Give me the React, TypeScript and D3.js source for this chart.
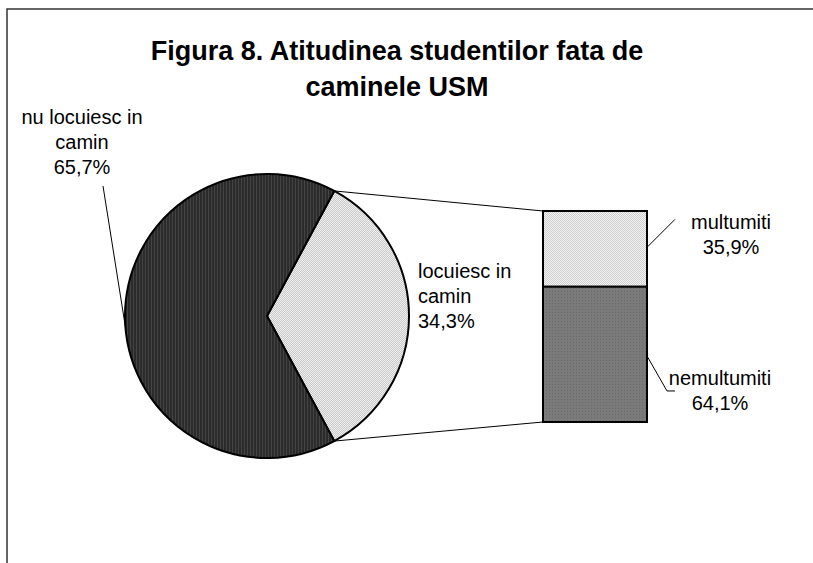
import * as d3 from "d3";

// --- Data ---
const mainLabels = [["locuiesc in", "camin"], ["nu locuiesc in", "camin"]];
const mainValues = [34.3, 65.7];
const subLabels = ["multumiti", "nemultumiti"];
const subValues = [35.9, 64.1];
const titleLines = ["Figura 8. Atitudinea studentilor fata de", "caminele USM"];

const W = 813;
const H = 563;

const PIE = { cx: 267, cy: 316, r: 142 };
const BAR = { x: 543, top: 211, bottom: 422, width: 104 };
const FONT = "'Liberation Sans', Arial, sans-serif";

const fmt = (v: number) => v.toFixed(1).replace(".", ",") + "%";

export default function App() {
  const total = d3.sum(mainValues);
  // first slice (locuiesc) centered on the right side
  const a0 = Math.PI / 2 - (mainValues[0] / total) * Math.PI;
  const pie = d3
    .pie<number>()
    .sort(null)
    .startAngle(a0)
    .endAngle(a0 + Math.PI * 2);
  const arcs = pie(mainValues);
  const arc = d3.arc<d3.PieArcDatum<number>>().innerRadius(0).outerRadius(PIE.r);

  const pt = (a: number, r = PIE.r) => [
    PIE.cx + r * Math.sin(a),
    PIE.cy - r * Math.cos(a),
  ];

  const y = d3.scaleLinear().domain([0, d3.sum(subValues)]).range([BAR.top, BAR.bottom]);
  let acc = 0;
  const stack = subValues.map((v, i) => {
    const s = { label: subLabels[i], value: v, y0: y(acc), y1: y(acc + v) };
    acc += v;
    return s;
  });

  const [tx, ty] = pt(arcs[0].startAngle);
  const [bx, by] = pt(arcs[0].endAngle);

  // leader for "nu locuiesc" slice
  const [lx, ly] = pt(-1.65);

  const fills = ["url(#lightPat)", "url(#darkPat)"];
  const barFills = ["url(#barTopPat)", "url(#barBotPat)"];
  const barRight = BAR.x + BAR.width;

  return (
    <svg
      width={W}
      height={H}
      style={{ position: "absolute", left: 0, top: 0, background: "#fff" }}
      fontFamily={FONT}
    >
      <defs>
        <pattern id="darkPat" width="3" height="2" patternUnits="userSpaceOnUse">
          <rect width="3" height="2" fill="#2b2b2b" />
          <rect x="1" width="1" height="2" fill="#444" />
        </pattern>
        <pattern id="lightPat" width="2" height="2" patternUnits="userSpaceOnUse">
          <rect width="2" height="2" fill="#f0f0f0" />
          <rect width="1" height="1" fill="#c8c8c8" />
          <rect x="1" y="1" width="1" height="1" fill="#c8c8c8" />
        </pattern>
        <pattern id="barTopPat" width="2" height="2" patternUnits="userSpaceOnUse">
          <rect width="2" height="2" fill="#f2f2f2" />
          <rect width="1" height="1" fill="#cfcfcf" />
          <rect x="1" y="1" width="1" height="1" fill="#cfcfcf" />
        </pattern>
        <pattern id="barBotPat" width="3" height="3" patternUnits="userSpaceOnUse">
          <rect width="3" height="3" fill="#7a7a7a" />
          <rect width="1" height="1" fill="#6a6a6a" />
        </pattern>
      </defs>

      {/* frame */}
      <rect x={7} y={9} width={W + 20} height={H + 20} fill="none" stroke="#333" strokeWidth={1.5} />

      {/* title */}
      <text textAnchor="middle" fontSize={27} fontWeight="bold" fill="#000">
        {titleLines.map((t, i) => (
          <tspan key={i} x={397} y={60 + i * 36}>
            {t}
          </tspan>
        ))}
      </text>

      {/* pie */}
      <g transform={`translate(${PIE.cx},${PIE.cy})`}>
        {arcs.map((d, i) => (
          <path key={i} d={arc(d) ?? ""} fill={fills[i]} stroke="#000" strokeWidth={2} strokeLinejoin="round" />
        ))}
      </g>

      {/* connectors pie -> bar */}
      <line x1={tx} y1={ty} x2={BAR.x} y2={BAR.top} stroke="#000" strokeWidth={1} />
      <line x1={bx} y1={by} x2={BAR.x} y2={BAR.bottom} stroke="#000" strokeWidth={1} />

      {/* bar of pie */}
      {stack.map((s, i) => (
        <rect
          key={i}
          x={BAR.x}
          y={s.y0}
          width={BAR.width}
          height={s.y1 - s.y0}
          fill={barFills[i]}
          stroke="#000"
          strokeWidth={2}
        />
      ))}

      {/* labels */}
      <line x1={103} y1={186} x2={lx} y2={ly} stroke="#000" strokeWidth={1} />
      <text textAnchor="middle" fontSize={20} fill="#000">
        {[...mainLabels[1], fmt(mainValues[1])].map((t, i) => (
          <tspan key={i} x={82} y={124 + i * 25}>
            {t}
          </tspan>
        ))}
      </text>
      <text textAnchor="start" fontSize={20} fill="#000">
        {[...mainLabels[0], fmt(mainValues[0])].map((t, i) => (
          <tspan key={i} x={418} y={278 + i * 25}>
            {t}
          </tspan>
        ))}
      </text>

      <polyline
        points={`${barRight},${y(subValues[0] * 0.48)} ${barRight + 28},${y(subValues[0] * 0.48) - 28}`}
        fill="none"
        stroke="#000"
        strokeWidth={1}
      />
      <text textAnchor="middle" fontSize={20} fill="#000">
        {[stack[0].label, fmt(stack[0].value)].map((t, i) => (
          <tspan key={i} x={731} y={229 + i * 25}>
            {t}
          </tspan>
        ))}
      </text>

      <polyline
        points={`${barRight},${y(subValues[0] + 32.8)} ${barRight + 20},${y(subValues[0] + 32.8) + 35} ${barRight + 28},${y(subValues[0] + 32.8) + 35}`}
        fill="none"
        stroke="#000"
        strokeWidth={1}
      />
      <text textAnchor="middle" fontSize={20} fill="#000">
        {[stack[1].label, fmt(stack[1].value)].map((t, i) => (
          <tspan key={i} x={720} y={385 + i * 25}>
            {t}
          </tspan>
        ))}
      </text>
    </svg>
  );
}
